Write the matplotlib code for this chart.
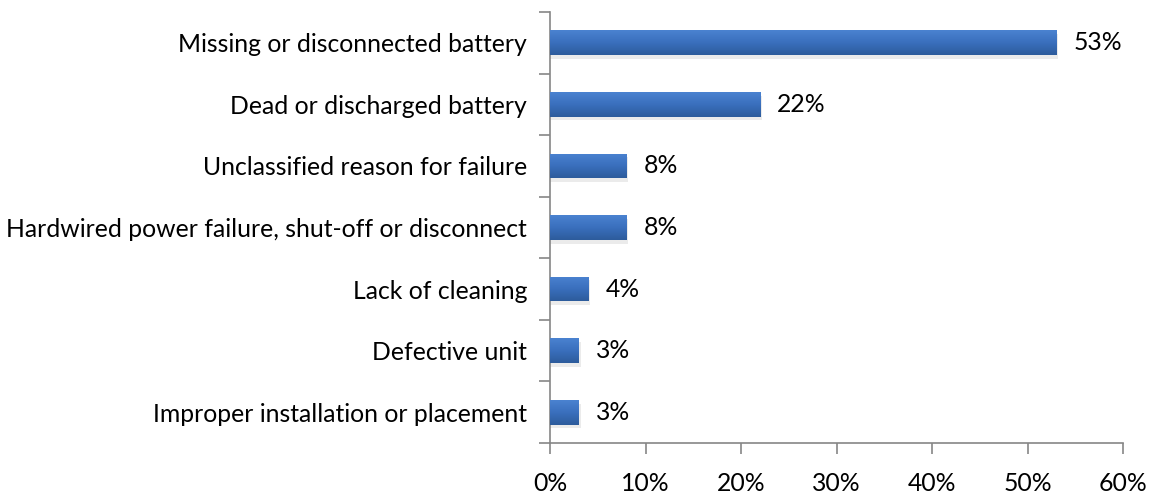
import numpy as np
import matplotlib.pyplot as plt
from matplotlib.colors import LinearSegmentedColormap

categories = [
    "Missing or disconnected battery",
    "Dead or discharged battery",
    "Unclassified reason for failure",
    "Hardwired power failure, shut-off or disconnect",
    "Lack of cleaning",
    "Defective unit",
    "Improper installation or placement",
]
values = [53, 22, 8, 8, 4, 3, 3]
xticks = [0, 10, 20, 30, 40, 50, 60]

plt.rcParams['font.family'] = ['Lato', 'DejaVu Sans']
fs = 17.8

fig = plt.figure(figsize=(11.51, 4.96), dpi=100)
ax = fig.add_axes([550 / 1151, 1 - 443 / 496, 573 / 1151, 431 / 496])

ypos = np.arange(len(categories))[::-1]
bar_h = 0.40
grad = LinearSegmentedColormap.from_list('bar', ['#2d5c9c', '#3a6fbd', '#4a82d0'])

# soft shadow under the bars
for y, v in zip(ypos, values):
    ax.barh(y - 0.06, v + 0.15, height=bar_h, left=0.05, color='#000000',
            alpha=0.08, zorder=1, linewidth=0)

bars = ax.barh(ypos, values, height=bar_h, color='#3a6fbd', zorder=2, linewidth=0)
for b in bars:
    x0, y0 = b.get_x(), b.get_y()
    w, h = b.get_width(), b.get_height()
    img = ax.imshow(np.linspace(0, 1, 50).reshape(-1, 1), cmap=grad, aspect='auto',
                    extent=[x0, x0 + w, y0, y0 + h], origin='lower', zorder=3)
    img.set_clip_path(b)

for y, v in zip(ypos, values):
    ax.text(v + 1.8, y, f"{v}%", va='center', ha='left', fontsize=fs, color='black')

ax.set_xlim(0, 60)
ax.set_ylim(-0.5, len(categories) - 0.5)
ax.set_xticks(xticks)
ax.set_xticklabels([f"{t}%" for t in xticks], fontsize=fs)
ax.set_yticks(ypos)
ax.set_yticklabels(categories, fontsize=fs)
ax.set_yticks(np.arange(-0.5, len(categories), 1.0), minor=True)

ax.tick_params(axis='y', which='major', length=0, pad=16.5)
ax.tick_params(axis='y', which='minor', length=8, color='#868686', width=1.2)
ax.tick_params(axis='x', length=8, color='#868686', width=1.2, pad=13)

for s in ['top', 'right']:
    ax.spines[s].set_visible(False)
for s in ['left', 'bottom']:
    ax.spines[s].set_color('#868686')
    ax.spines[s].set_linewidth(1.2)

fig.savefig('out.png', dpi=100)
